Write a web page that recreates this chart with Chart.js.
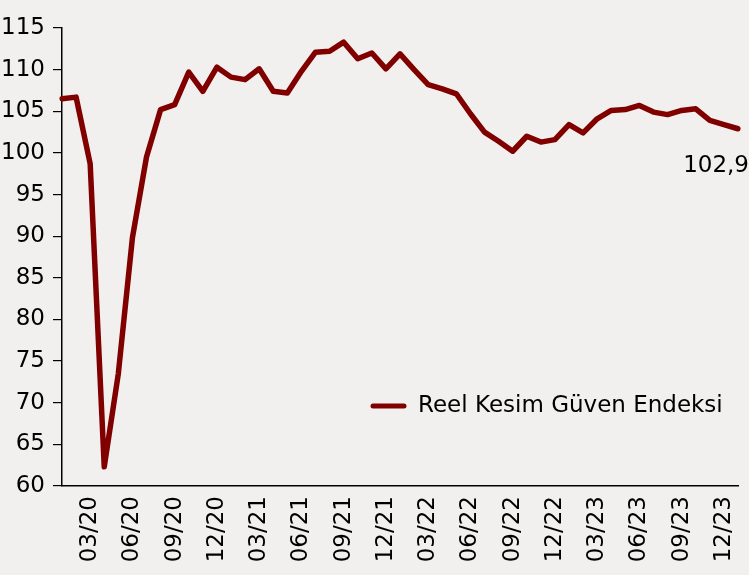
<!DOCTYPE html>
<html>
<head>
<meta charset="utf-8">
<script src="https://cdn.jsdelivr.net/npm/chart.js@4.4.1/dist/chart.umd.min.js"></script>
<style>
  html, body { margin: 0; padding: 0; background: #f2f0ee; }
  #wrap { width: 749px; height: 575px; }
</style>
</head>
<body>
<div id="wrap"><canvas id="chart" width="749" height="575"></canvas></div>
<script>
// monthly, 01/20 .. 01/24
var months = [
  '01/20','02/20','03/20','04/20','05/20','06/20','07/20','08/20','09/20','10/20','11/20','12/20',
  '01/21','02/21','03/21','04/21','05/21','06/21','07/21','08/21','09/21','10/21','11/21','12/21',
  '01/22','02/22','03/22','04/22','05/22','06/22','07/22','08/22','09/22','10/22','11/22','12/22',
  '01/23','02/23','03/23','04/23','05/23','06/23','07/23','08/23','09/23','10/23','11/23','12/23',
  '01/24'
];
var shownTicks = ['03','06','09','12'];

var reelKesim = [
  106.5, 106.7, 98.7, 62.3, 73.5, 89.8, 99.5, 105.2, 105.8, 109.7, 107.4, 110.3,
  109.1, 108.8, 110.1, 107.4, 107.2, 109.8, 112.1, 112.2, 113.3, 111.3, 112.0, 110.1,
  111.9, 110.0, 108.2, 107.7, 107.1, 104.7, 102.5, 101.4, 100.2, 102.0, 101.3, 101.6,
  103.4, 102.4, 104.1, 105.1, 105.2, 105.7, 104.9, 104.6, 105.1, 105.3, 103.9, 103.4,
  102.9
];
var seriesName = 'Reel Kesim Güven Endeksi';
var lastLabel = '102,9';

var yMin = 60, yMax = 115, yStep = 5;
var lineColor = '#800000';
var fontFam = "'DejaVu Sans', sans-serif";

// legend drawn inside the plot + label of the last value
var extras = {
  id: 'extras',
  afterDatasetsDraw: function (chart) {
    var ctx = chart.ctx;
    var meta = chart.getDatasetMeta(0);
    var last = meta.data[meta.data.length - 1];
    ctx.save();
    ctx.fillStyle = '#000';
    ctx.font = '23px ' + fontFam;
    ctx.textBaseline = 'middle';
    ctx.textAlign = 'right';
    ctx.fillText(lastLabel, last.x + 11, last.y + 37);

    // legend
    var ly = chart.scales.y.getPixelForValue(69.6);
    ctx.strokeStyle = lineColor;
    ctx.lineWidth = 5;
    ctx.lineCap = 'round';
    ctx.beginPath();
    ctx.moveTo(373, ly);
    ctx.lineTo(404, ly);
    ctx.stroke();
    ctx.textAlign = 'left';
    ctx.fillText(chart.data.datasets[0].label, 418, ly);
    ctx.restore();
  }
};

new Chart(document.getElementById('chart'), {
  type: 'line',
  data: {
    labels: months,
    datasets: [{
      label: seriesName,
      data: reelKesim,
      borderColor: lineColor,
      backgroundColor: lineColor,
      borderWidth: 5.5,
      pointRadius: 0,
      tension: 0,
      borderJoinStyle: 'round',
      borderCapStyle: 'round'
    }]
  },
  options: {
    responsive: false,
    animation: false,
    layout: { padding: { top: 28, right: 11, left: 0, bottom: 0 } },
    plugins: {
      legend: { display: false },
      tooltip: { enabled: false }
    },
    scales: {
      x: {
        type: 'category',
        offset: false,
        afterFit: function (s) {
          s.height = 89;
          s.paddingLeft = 0;
          s.paddingRight = 0;
        },
        border: { display: true, color: '#000', width: 1.5 },
        grid: { display: true, drawOnChartArea: false, drawTicks: false },
        ticks: {
          autoSkip: false,
          maxRotation: 90,
          minRotation: 90,
          padding: 10,
          color: '#000',
          font: { family: fontFam, size: 23 },
          callback: function (v, i) {
            var m = months[i];
            return shownTicks.indexOf(m.slice(0, 2)) >= 0 ? m : '';
          }
        }
      },
      y: {
        min: yMin,
        max: yMax,
        afterFit: function (s) { s.width = 62; },
        border: { display: true, color: '#000', width: 1.5 },
        grid: { drawOnChartArea: false, drawTicks: true, tickLength: 9, color: '#000', lineWidth: 1.2 },
        ticks: {
          stepSize: yStep,
          padding: 8,
          color: '#000',
          font: { family: fontFam, size: 23 }
        }
      }
    }
  },
  plugins: [extras]
});
</script>
</body>
</html>
